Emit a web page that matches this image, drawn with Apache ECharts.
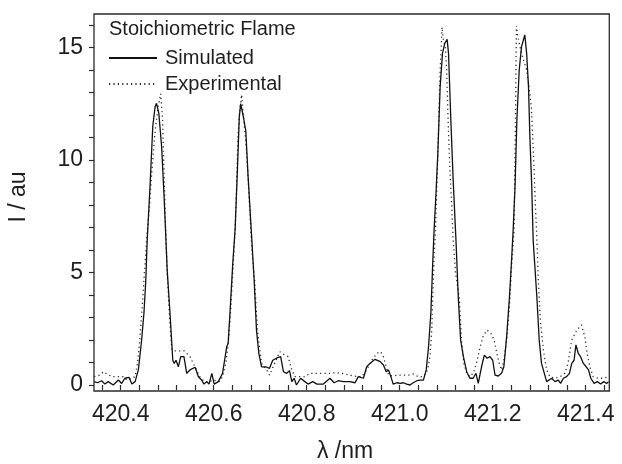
<!DOCTYPE html>
<html>
<head>
<meta charset="utf-8">
<script src="https://cdn.jsdelivr.net/npm/echarts@6/dist/echarts.min.js"></script>
<style>
html,body{margin:0;padding:0;background:#fff;}
#chart{width:622px;height:464px;}
</style>
</head>
<body>
<div id="chart"></div>
<script>
// ---- data (wavelength in nm, intensity in au) ----
const simWl = [420.343,420.350,420.359,420.366,420.373,420.384,420.395,420.402,420.409,420.418,420.424,420.431,420.438,420.445,420.450,420.454,420.457,420.463,420.469,420.474,420.477,420.482,420.488,420.493,420.497,420.500,420.506,420.512,420.515,420.519,420.524,420.529,420.536,420.542,420.549,420.560,420.567,420.574,420.579,420.585,420.590,420.596,420.601,420.610,420.619,420.628,420.631,420.635,420.641,420.646,420.651,420.655,420.658,420.664,420.669,420.674,420.682,420.687,420.692,420.697,420.703,420.712,420.720,420.727,420.735,420.744,420.750,420.757,420.763,420.768,420.773,420.778,420.787,420.796,420.803,420.813,420.822,420.836,420.850,420.859,420.868,420.879,420.893,420.904,420.911,420.922,420.929,420.936,420.947,420.958,420.965,420.971,420.976,420.981,420.986,420.994,421.001,421.008,421.015,421.022,421.029,421.037,421.044,421.051,421.057,421.062,421.067,421.071,421.074,421.078,421.082,421.087,421.092,421.097,421.102,421.105,421.110,421.115,421.121,421.126,421.131,421.137,421.144,421.151,421.158,421.164,421.169,421.176,421.182,421.188,421.194,421.200,421.205,421.212,421.219,421.224,421.230,421.236,421.241,421.244,421.248,421.252,421.257,421.262,421.269,421.273,421.277,421.280,421.284,421.287,421.295,421.300,421.305,421.316,421.327,421.334,421.341,421.346,421.352,421.359,421.365,421.370,421.375,421.379,421.384,421.389,421.395,421.401,421.406,421.411,421.418,421.425,421.432,421.439,421.445,421.449];
const simI = [0.15,0.10,0.19,0.04,0.15,0.00,0.22,0.07,0.30,0.34,0.04,0.15,0.67,2.0,3.2,4.67,6.44,8.8,11.5,12.37,12.52,12.07,10.6,8.5,6.6,5.1,3.2,1.1,0.96,1.1,0.81,1.26,1.26,0.52,0.67,0.79,0.37,0.22,0.04,0.15,0.04,0.52,0.04,0.15,0.52,1.7,1.85,3.2,5.4,6.9,9.56,11.9,12.5,11.9,11.3,9.26,6.44,4.67,2.44,1.41,0.81,0.81,0.74,1.1,1.19,1.26,0.59,0.52,0.64,0.15,0.30,0.0,0.30,0.15,0.04,0.15,0.04,0.04,0.30,0.10,0.19,0.15,0.15,0.10,0.37,0.30,0.81,0.96,1.14,1.04,0.89,0.59,0.67,0.37,0.04,0.10,0.07,0.10,0.04,0.0,0.10,0.19,0.22,0.22,0.67,1.7,3.2,5.4,6.9,8.5,10.3,13.26,14.74,15.19,15.36,14.74,11.78,9.1,6.44,3.9,2.0,1.26,0.59,0.30,0.30,0.52,0.07,0.81,1.33,1.19,1.26,1.10,0.44,0.40,0.52,0.81,2.15,3.9,5.7,6.9,8.8,11.78,14.0,15.04,15.56,14.74,13.26,11.0,8.8,6.44,3.9,2.0,0.96,0.15,0.30,0.15,0.22,0.07,0.30,0.37,0.52,0.96,1.10,1.78,1.41,1.26,0.96,0.81,0.67,0.30,0.07,0.15,0.04,0.15,0.07,0.15];

const expWl = [420.343,420.350,420.356,420.363,420.373,420.384,420.395,420.405,420.413,420.424,420.431,420.436,420.441,420.446,420.451,420.457,420.462,420.467,420.474,420.481,420.486,420.490,420.493,420.496,420.500,420.505,420.510,420.515,420.524,420.536,420.549,420.556,420.563,420.570,420.580,420.591,420.601,420.612,420.619,420.626,420.632,420.637,420.642,420.646,420.648,420.652,420.656,420.660,420.664,420.670,420.675,420.681,420.684,420.688,420.694,420.703,420.714,420.720,420.731,420.742,420.749,420.760,420.768,420.775,420.785,420.796,420.807,420.822,420.836,420.850,420.864,420.879,420.893,420.908,420.918,420.929,420.940,420.951,420.959,420.965,420.971,420.976,420.986,420.997,421.008,421.019,421.029,421.040,421.051,421.060,421.065,421.069,421.071,421.074,421.077,421.081,421.084,421.087,421.090,421.091,421.094,421.098,421.101,421.104,421.108,421.112,421.115,421.120,421.128,421.133,421.138,421.144,421.151,421.158,421.165,421.173,421.180,421.188,421.196,421.203,421.209,421.214,421.219,421.224,421.230,421.236,421.241,421.246,421.249,421.250,421.251,421.253,421.257,421.262,421.267,421.273,421.278,421.283,421.286,421.289,421.292,421.295,421.298,421.303,421.309,421.316,421.323,421.334,421.345,421.355,421.362,421.370,421.381,421.391,421.398,421.403,421.409,421.416,421.427,421.438,421.449];
const expI = [0.37,0.40,0.45,0.59,0.45,0.37,0.37,0.37,0.22,0.30,0.37,0.96,2.0,3.4,5.0,6.8,8.0,9.5,11.3,12.4,12.95,11.8,9.6,7.3,5.0,3.0,1.56,1.52,1.52,1.52,1.26,0.96,0.67,0.37,0.15,0.15,0.22,0.15,0.37,0.96,2.0,3.48,5.4,6.9,7.9,11.0,12.2,12.9,11.9,10.6,8.8,6.44,5.5,4.67,2.44,0.96,0.67,0.44,0.96,1.48,1.38,1.26,0.67,0.37,0.37,0.37,0.52,0.52,0.52,0.52,0.55,0.50,0.44,0.37,0.37,0.67,1.10,1.41,1.48,1.26,0.81,0.44,0.40,0.44,0.44,0.44,0.49,0.37,0.37,0.67,1.26,2.44,3.9,5.7,6.9,9.56,11.8,14.0,15.33,15.9,15.33,15.04,14.0,11.8,9.56,7.9,6.44,5.0,3.9,2.0,0.96,0.52,0.37,0.52,0.96,1.70,2.20,2.44,2.30,2.00,1.41,0.96,0.67,1.10,2.00,3.48,5.4,6.9,11.8,14.0,15.96,15.6,15.2,14.74,14.4,14.0,13.26,12.37,11.0,9.56,7.9,6.5,4.67,2.74,1.56,0.67,0.37,0.30,0.37,0.52,0.96,2.00,2.44,2.67,2.15,1.41,0.81,0.37,0.30,0.30,0.37];

const xTickMin = 420.36, xTickMax = 421.44, xTickStep = 0.04, xLabelStep = 0.2;
const yTickMin = 0, yTickMax = 16, yTickStep = 1, yLabelStep = 5;
const legendTitle = 'Stoichiometric Flame';
const seriesNames = ['Simulated', 'Experimental'];
const xName = 'λ /nm', yName = 'I / au';

// ---- layout (pixels) ----
const boxL = 94, boxR = 609.3, boxT = 14, boxB = 391;
const px4204 = 120.7, pxPerNm = 465;   // x: 420.4 at px 120.7
const py0 = 385, pyPerUnit = 22.5;     // y: 0 at py 385
const xMin = 420.4 - (px4204 - boxL) / pxPerNm;
const xMax = 420.4 + (boxR - px4204) / pxPerNm;
const yMax = (py0 - boxT) / pyPerUnit;
const yMin = -(boxB - py0) / pyPerUnit;
const tickGridL = px4204 + (xTickMin - 420.4) * pxPerNm;
const tickGridR = px4204 + (xTickMax - 420.4) * pxPerNm;
const tickGridT = py0 - yTickMax * pyPerUnit;

const FONT = '"Liberation Sans", Arial, Helvetica, sans-serif';
const TXT = '#1e1e1e';
const AX = '#2a2a2a';

function stepLabel(step) {
  return function (v) {
    const r = Math.round(v / step) * step;
    return Math.abs(v - r) < 1e-6 ? (step < 1 ? r.toFixed(1) : String(Math.round(r))) : '';
  };
}

const chart = echarts.init(document.getElementById('chart'), null, {renderer: 'canvas'});
chart.setOption({
  animation: false,
  backgroundColor: '#fff',
  grid: [
    {left: boxL, top: boxT, width: boxR - boxL, height: boxB - boxT, show: true,
     borderColor: AX, borderWidth: 1.3, backgroundColor: 'transparent'},
    {left: tickGridL, top: tickGridT, width: tickGridR - tickGridL, height: py0 - tickGridT, show: false}
  ],
  xAxis: [
    {gridIndex: 0, type: 'value', min: xMin, max: xMax,
     axisLine: {show: false}, axisTick: {show: false}, axisLabel: {show: false}, splitLine: {show: false}},
    {gridIndex: 1, type: 'value', min: xTickMin, max: xTickMax, interval: xTickStep,
     position: 'bottom', offset: boxB - py0,
     axisLine: {show: false}, splitLine: {show: false},
     axisTick: {show: true, inside: false, length: 5, lineStyle: {color: AX, width: 1.2}},
     axisLabel: {show: true, margin: 12, fontSize: 23, fontFamily: FONT, color: TXT, formatter: stepLabel(xLabelStep)}}
  ],
  yAxis: [
    {gridIndex: 0, type: 'value', min: yMin, max: yMax,
     axisLine: {show: false}, axisTick: {show: false}, axisLabel: {show: false}, splitLine: {show: false}},
    {gridIndex: 1, type: 'value', min: yTickMin, max: yTickMax, interval: yTickStep,
     position: 'left', offset: tickGridL - boxL,
     axisLine: {show: false}, splitLine: {show: false},
     axisTick: {show: true, inside: false, length: 5, lineStyle: {color: AX, width: 1.2}},
     axisLabel: {show: true, margin: 11, fontSize: 23, fontFamily: FONT, color: TXT, formatter: stepLabel(yLabelStep)}}
  ],
  legend: {
    orient: 'vertical', left: 103, top: 43, padding: 5,
    itemWidth: 48, itemHeight: 14, itemGap: 6,
    data: seriesNames,
    itemStyle: {opacity: 0, borderWidth: 0},
    textStyle: {fontSize: 20, fontFamily: FONT, color: TXT, lineHeight: 20, padding: [0, 0, 0, 3]}
  },
  graphic: [
    {type: 'text', left: 109, top: 19, style: {text: legendTitle, font: '20px ' + FONT, fill: TXT}},
    {type: 'text', x: 19, y: 197, rotation: Math.PI / 2,
     style: {text: yName, font: '23px ' + FONT, fill: TXT, align: 'center', verticalAlign: 'middle'}},
    {type: 'text', x: 345, y: 452,
     style: {text: xName, font: '23px ' + FONT, fill: TXT, align: 'center', verticalAlign: 'middle'}}
  ],
  series: [
    {name: seriesNames[1], type: 'line', xAxisIndex: 0, yAxisIndex: 0, symbol: 'none', clip: true,
     lineStyle: {color: '#2a2a2a', width: 1.3, type: [1.2, 3.2]},
     data: expWl.map((w, i) => [w, expI[i]])},
    {name: seriesNames[0], type: 'line', xAxisIndex: 0, yAxisIndex: 0, symbol: 'none', clip: true,
     lineStyle: {color: '#111', width: 1.3, type: 'solid'},
     data: simWl.map((w, i) => [w, simI[i]])}
  ]
});
</script>
</body>
</html>
